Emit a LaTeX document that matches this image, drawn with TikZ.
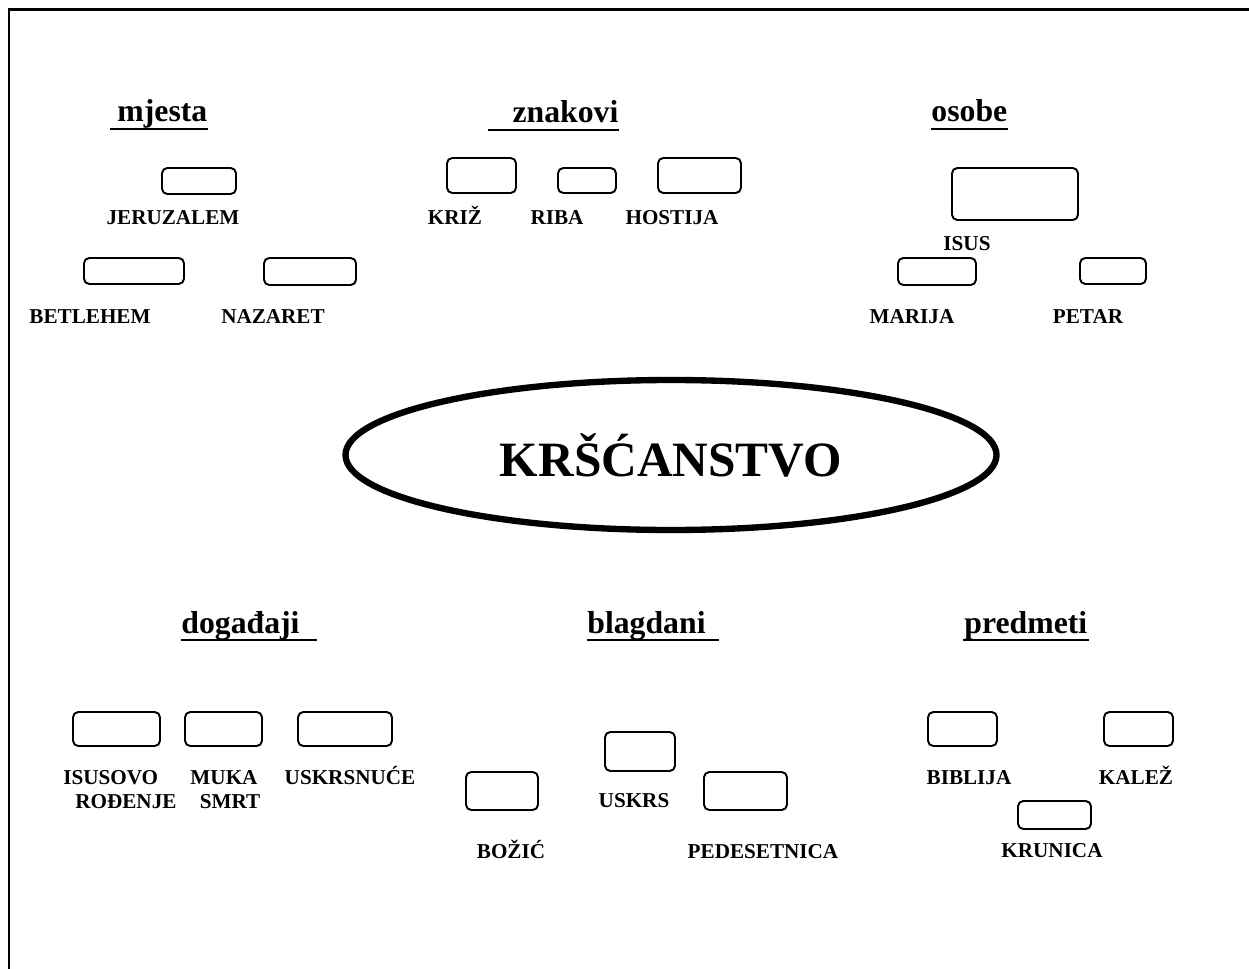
\documentclass[tikz,border=0pt]{standalone}
\usepackage{fontspec}
\setmainfont{Liberation Serif}
\usetikzlibrary{shapes.geometric}
\newdimen\px \px=0.567pt

\begin{document}
\begin{tikzpicture}[
  x=1\px,y=-1\px,
  every node/.style={inner sep=0pt},
  lbl/.style={font=\fontsize{12}{13.6}\selectfont\bfseries,anchor=base},
  slot/.style={draw,line width=1.1pt,rounded corners=3pt},
  heading/.style={font=\fontsize{18}{20}\selectfont\bfseries,anchor=base west,
    append after command={
      ([yshift=-4pt]\tikzlastnode.base west) edge[line width=1.6pt] ([yshift=-4pt]\tikzlastnode.base east)}}
]
  \useasboundingbox (0,0) rectangle (1249,969);
  % page frame (open at right and bottom)
  \draw[line width=1.7pt] (1260,10) -- (9,10) -- (9,980);

  % Centre
  \node[ellipse,draw,line width=3.6pt,minimum width=651\px,minimum height=150\px,
        font=\fontsize{28}{32}\selectfont\bfseries] (core) at (671,455) {KRŠĆANSTVO};

  % Headings
  \node[heading] (h_mj) at (110,122)  {\makebox[97\px][r]{mjesta}};
  \node[heading] (h_zn) at (488,123)  {\makebox[130\px][r]{znakovi}};
  \node[heading] (h_os) at (931,122)  {\makebox[76\px][c]{osobe}};
  \node[heading] (h_do) at (181,633)  {\makebox[135\px][l]{događaji}};
  \node[heading] (h_bl) at (587,633)  {\makebox[131\px][l]{blagdani}};
  \node[heading] (h_pr) at (963,633)  {\makebox[125\px][c]{predmeti}};

  % mjesta
  \node[slot,minimum width=74\px,minimum height=26\px]  (b_jer) at (199,181)   {};
  \node[slot,minimum width=100\px,minimum height=26\px] (b_bet) at (134,271)   {};
  \node[slot,minimum width=92\px,minimum height=27\px]  (b_naz) at (310,271.5) {};
  \node[lbl] (l_jer) at (173,225) {JERUZALEM};
  \node[lbl] (l_bet) at (90,323)  {BETLEHEM};
  \node[lbl] (l_naz) at (273,323) {NAZARET};

  % znakovi
  \node[slot,minimum width=69\px,minimum height=35\px] (b_kri) at (481.5,175.5) {};
  \node[slot,minimum width=58\px,minimum height=25\px] (b_rib) at (587,180.5)   {};
  \node[slot,minimum width=83\px,minimum height=35\px] (b_hos) at (699.5,175.5) {};
  \node[lbl] (l_kri) at (455,225) {KRIŽ};
  \node[lbl] (l_rib) at (557,225) {RIBA};
  \node[lbl] (l_hos) at (672,225) {HOSTIJA};

  % osobe
  \node[slot,minimum width=126\px,minimum height=52\px] (b_isu) at (1015,194)   {};
  \node[slot,minimum width=78\px,minimum height=27\px]  (b_mar) at (937,271.5)  {};
  \node[slot,minimum width=66\px,minimum height=26\px]  (b_pet) at (1113,271)   {};
  \node[lbl] (l_isu) at (967,250)  {ISUS};
  \node[lbl] (l_mar) at (912,323)  {MARIJA};
  \node[lbl] (l_pet) at (1088,323) {PETAR};

  % događaji
  \node[slot,minimum width=87\px,minimum height=34\px] (b_rod) at (116.5,729) {};
  \node[slot,minimum width=77\px,minimum height=34\px] (b_muk) at (223.5,729) {};
  \node[slot,minimum width=94\px,minimum height=34\px] (b_usn) at (345,729)   {};
  \node[lbl,anchor=base west,align=left] (l_rod) at (63,808) {ISUSOVO\\\hspace*{12\px}ROĐENJE};
  \node[lbl,align=center] (l_muk) at (224,808) {MUKA\\\hspace*{12\px}SMRT};
  \node[lbl] (l_usn) at (350,784) {USKRSNUĆE};

  % blagdani
  \node[slot,minimum width=72\px,minimum height=38\px] (b_boz) at (502,791)   {};
  \node[slot,minimum width=70\px,minimum height=39\px] (b_usk) at (640,751.5) {};
  \node[slot,minimum width=83\px,minimum height=38\px] (b_ped) at (745.5,791) {};
  \node[lbl] (l_usk) at (634,807) {USKRS};
  \node[lbl] (l_boz) at (511,858) {BOŽIĆ};
  \node[lbl] (l_ped) at (763,858) {PEDESETNICA};

  % predmeti
  \node[slot,minimum width=69\px,minimum height=34\px] (b_bib) at (962.5,729)  {};
  \node[slot,minimum width=69\px,minimum height=34\px] (b_kal) at (1138.5,729) {};
  \node[slot,minimum width=73\px,minimum height=28\px] (b_kru) at (1054.5,815) {};
  \node[lbl] (l_bib) at (969,784)  {BIBLIJA};
  \node[lbl] (l_kal) at (1136,784) {KALEŽ};
  \node[lbl] (l_kru) at (1052,857) {KRUNICA};
\end{tikzpicture}
\end{document}
